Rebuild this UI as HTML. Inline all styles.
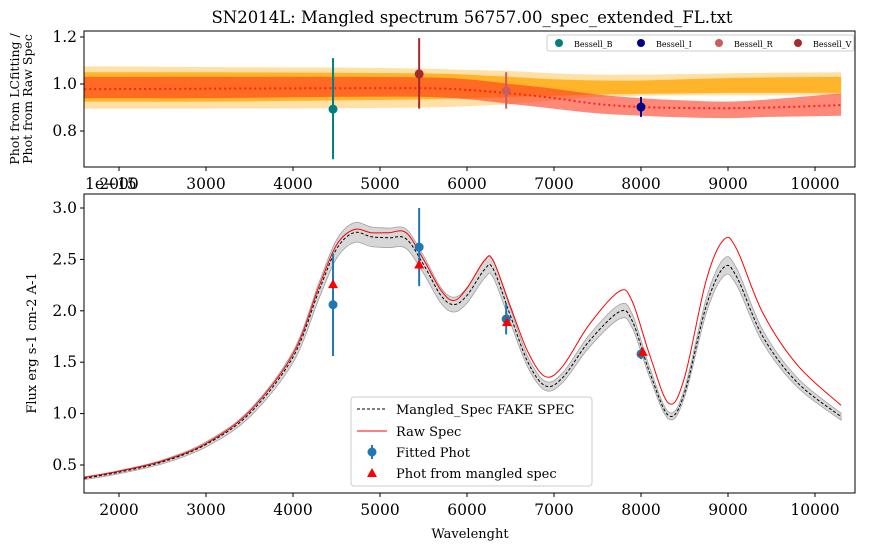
<!DOCTYPE html>
<html><head><meta charset="utf-8"><style>
body{margin:0;background:#fff}
svg{font-family:"DejaVu Serif","Liberation Serif",serif}
</style></head><body>
<svg id="c" width="869" height="550" viewBox="0 0 869 550" xmlns="http://www.w3.org/2000/svg"></svg>
<script>
const xTicks=[2000,3000,4000,5000,6000,7000,8000,9000,10000];
const topYTicks=[0.8,1.0,1.2];
const botYTicks=[0.5,1.0,1.5,2.0,2.5,3.0];
const specWl=[1600,2000,2500,3000,3500,4000,4300,4500,4700,4900,5100,5300,5500,5700,5850,6000,6200,6300,6500,6700,6900,7100,7400,7750,7900,8100,8320,8500,8750,8950,9100,9400,9800,10300];
const mangled=[0.37,0.43,0.53,0.70,1.0,1.55,2.2,2.6,2.76,2.72,2.71,2.70,2.45,2.15,2.06,2.15,2.40,2.41,1.95,1.5,1.27,1.35,1.7,1.99,1.9,1.4,0.98,1.2,2.05,2.42,2.33,1.75,1.3,0.97];
const raw=[0.38,0.44,0.54,0.71,1.02,1.58,2.24,2.64,2.79,2.76,2.76,2.76,2.50,2.20,2.10,2.22,2.49,2.49,2.04,1.6,1.36,1.46,1.86,2.19,2.09,1.57,1.10,1.35,2.3,2.69,2.6,1.98,1.47,1.08];
const bandFrac=0.035;
const photWl=[4460,5450,6450,8000];
const photVal=[2.06,2.62,1.92,1.58];
const photErr=[0.5,0.38,0.15,0.05];
const mangWl=[4460,5450,6460,8020];
const mangVal=[2.26,2.45,1.89,1.60];
const ratioWl=[1600,3000,4500,5500,6000,6500,7000,7500,8000,8500,9000,9500,10300];
const ratioLine=[0.978,0.98,0.982,0.982,0.975,0.96,0.94,0.915,0.902,0.898,0.897,0.9,0.91];
const b1Lo=[0.895,0.895,0.897,0.9,0.905,0.915,0.93,0.945,0.95,0.952,0.952,0.952,0.953];
const b1Hi=[1.075,1.072,1.07,1.065,1.06,1.055,1.045,1.04,1.04,1.042,1.045,1.048,1.05];
const b2Lo=[0.925,0.925,0.93,0.935,0.94,0.945,0.95,0.955,0.958,0.96,0.962,0.962,0.962];
const b2Hi=[1.05,1.05,1.048,1.045,1.04,1.03,1.02,1.015,1.015,1.02,1.025,1.028,1.03];
const b3Lo=[0.94,0.94,0.945,0.945,0.935,0.915,0.895,0.875,0.865,0.858,0.855,0.86,0.865];
const b3Hi=[1.03,1.03,1.03,1.028,1.02,1.0,0.98,0.955,0.94,0.93,0.925,0.935,0.96];
const bandNames=["Bessell_B","Bessell_I","Bessell_R","Bessell_V"];
const bandWl=[4460,8000,6450,5450];
const bandVal=[0.893,0.902,0.97,1.043];
const bandLo=[0.68,0.86,0.895,0.895];
const bandHi=[1.11,0.945,1.05,1.195];
const bandCol=["#008080","#00008b","#cd5c5c","#a52a2a"];

const NS="http://www.w3.org/2000/svg";
const svg=document.getElementById('c');
function el(t,a,p){const e=document.createElementNS(NS,t);for(const k in a)e.setAttribute(k,a[k]);(p||svg).appendChild(e);return e;}
const L=84,R=855;
const X=w=>119+(w-2000)*0.087;
const YT=v=>84-(v-1.0)*235;
const YB=v=>208-(v-3.0)*102.8;
function smooth(pts){let d="M"+pts[0][0].toFixed(1)+","+pts[0][1].toFixed(1);for(let i=0;i<pts.length-1;i++){const p0=pts[Math.max(0,i-1)],p1=pts[i],p2=pts[i+1],p3=pts[Math.min(pts.length-1,i+2)];const c1=[p1[0]+(p2[0]-p0[0])/6,p1[1]+(p2[1]-p0[1])/6],c2=[p2[0]-(p3[0]-p1[0])/6,p2[1]-(p3[1]-p1[1])/6];d+=`C${c1[0].toFixed(1)},${c1[1].toFixed(1)} ${c2[0].toFixed(1)},${c2[1].toFixed(1)} ${p2[0].toFixed(1)},${p2[1].toFixed(1)}`;}return d;}
function bandPath(wl,lo,hi,Y){const up=wl.map((w,i)=>[X(w),Y(hi[i])]);const dn=wl.map((w,i)=>[X(w),Y(lo[i])]).reverse();return smooth(up)+smooth(dn).replace("M","L")+"Z";}

const defs=el('defs',{});
const cp1=el('clipPath',{id:'ct'},defs);el('rect',{x:L,y:31,width:R-L,height:136},cp1);
const cp2=el('clipPath',{id:'cb'},defs);el('rect',{x:L,y:194,width:R-L,height:299},cp2);

let t=el('text',{x:472,y:23,'text-anchor':'middle','font-size':16.5});t.textContent="SN2014L: Mangled spectrum 56757.00_spec_extended_FL.txt";


const gt=el('g',{'clip-path':'url(#ct)'});

let p=el('path',{d:bandPath(ratioWl,b1Lo,b1Hi,YT),fill:'#ffa500','fill-opacity':0.35},gt);
p=el('path',{d:bandPath(ratioWl,b2Lo,b2Hi,YT),fill:'#ffa500','fill-opacity':0.75},gt);
p=el('path',{d:bandPath(ratioWl,b3Lo,b3Hi,YT),fill:'#ff3a20','fill-opacity':0.6},gt);
p=el('path',{d:smooth(ratioWl.map((w,i)=>[X(w),YT(ratioLine[i])])),fill:'none',stroke:'#ff2020','stroke-width':2,'stroke-dasharray':'2,3'},gt);
for(let i=0;i<bandWl.length;i++){
  let g=el('g',{},gt);
  el('line',{x1:X(bandWl[i]),x2:X(bandWl[i]),y1:YT(bandLo[i]),y2:YT(bandHi[i]),stroke:bandCol[i],'stroke-width':2},g);
  el('circle',{cx:X(bandWl[i]),cy:YT(bandVal[i]),r:4.5,fill:bandCol[i]},g);
}
el('rect',{x:L,y:31,width:R-L,height:136,fill:'none',stroke:'#000','stroke-width':1});
for(const v of topYTicks){el('line',{x1:L-4,x2:L,y1:YT(v),y2:YT(v),stroke:'#000'});let tt=el('text',{x:L-7,y:YT(v)+5,'text-anchor':'end','font-size':15.5});tt.textContent=v.toFixed(1);}
for(const v of xTicks){el('line',{x1:X(v),x2:X(v),y1:167,y2:171,stroke:'#000'});let tt=el('text',{x:X(v),y:189,'text-anchor':'middle','font-size':15.5});tt.textContent=v;}
t=el('text',{x:85,y:189,'font-size':15.5});t.textContent="1e−15";
t=el('text',{transform:'translate(19,99) rotate(-90)','text-anchor':'middle','font-size':12.5});

let ts=el('tspan',{x:0,dy:0},t);ts.textContent="Phot from LCfitting /";ts=el('tspan',{x:0,dy:13},t);ts.textContent="Phot from Raw Spec";
const lg=el('g',{});
el('rect',{x:547,y:35,width:307,height:16,fill:'#fff',stroke:'#ccc',rx:2},lg);
const lx=[559,641,719,798];
for(let i=0;i<4;i++){let g=el('g',{},lg);
el('circle',{cx:lx[i],cy:43,r:4,fill:bandCol[i]},g);let tx=el('text',{x:lx[i]+15,y:47,'font-size':8},g);tx.textContent=bandNames[i];}

const gb=el('g',{'clip-path':'url(#cb)'});
p=el('path',{d:bandPath(specWl,mangled.map(v=>v*(1-bandFrac)),mangled.map(v=>v*(1+bandFrac)),YB),fill:'#b0b0b0','fill-opacity':0.5,stroke:'#a0a0a0','stroke-width':0.8},gb);
p=el('path',{d:smooth(specWl.map((w,i)=>[X(w),YB(raw[i])])),fill:'none',stroke:'#ff0000','stroke-width':1},gb);
p=el('path',{d:smooth(specWl.map((w,i)=>[X(w),YB(mangled[i])])),fill:'none',stroke:'#000','stroke-width':1,'stroke-dasharray':'3,2'},gb);
for(let i=0;i<photWl.length;i++){let g=el('g',{},gb);
el('line',{x1:X(photWl[i]),x2:X(photWl[i]),y1:YB(photVal[i]-photErr[i]),y2:YB(photVal[i]+photErr[i]),stroke:'#1f77b4','stroke-width':2},g);
el('circle',{cx:X(photWl[i]),cy:YB(photVal[i]),r:4.5,fill:'#1f77b4'},g);}
for(let i=0;i<mangWl.length;i++){const x=X(mangWl[i]),y=YB(mangVal[i]);let tr=el('path',{d:`M${x},${y-5}L${x+5},${y+4}L${x-5},${y+4}Z`,fill:'#ff0000'},gb);}
el('rect',{x:L,y:194,width:R-L,height:299,fill:'none',stroke:'#000','stroke-width':1});
for(const v of botYTicks){el('line',{x1:L-4,x2:L,y1:YB(v),y2:YB(v),stroke:'#000'});let tt=el('text',{x:L-7,y:YB(v)+5,'text-anchor':'end','font-size':15.5});tt.textContent=v.toFixed(1);}
for(const v of xTicks){el('line',{x1:X(v),x2:X(v),y1:493,y2:497,stroke:'#000'});let tt=el('text',{x:X(v),y:515,'text-anchor':'middle','font-size':15.5});tt.textContent=v;}
t=el('text',{x:470,y:538,'text-anchor':'middle','font-size':13});t.textContent="Wavelenght";
t=el('text',{transform:'translate(36,343) rotate(-90)','text-anchor':'middle','font-size':13});t.textContent="Flux erg s-1 cm-2 A-1";
const bl=el('g',{});
el('rect',{x:351,y:397,width:241,height:89,fill:'#fff','fill-opacity':0.85,stroke:'#ccc',rx:3},bl);
const ly=[409,431,452,473];const labs=["Mangled_Spec FAKE SPEC","Raw Spec","Fitted Phot","Phot from mangled spec"];
for(let i=0;i<4;i++){let g=el('g',{},bl);
let tx=el('text',{x:396,y:ly[i]+5,'font-size':13},g);tx.textContent=labs[i];}
el('line',{x1:357,x2:387,y1:ly[0],y2:ly[0],stroke:'#000','stroke-dasharray':'3,2'},bl);
el('line',{x1:357,x2:387,y1:ly[1],y2:ly[1],stroke:'#f00'},bl);
el('line',{x1:372,x2:372,y1:ly[2]-7,y2:ly[2]+7,stroke:'#1f77b4','stroke-width':2},bl);
el('circle',{cx:372,cy:ly[2],r:4.5,fill:'#1f77b4'},bl);
el('path',{d:`M372,${ly[3]-5}L377,${ly[3]+4}L367,${ly[3]+4}Z`,fill:'#f00'},bl);
</script>
</body></html>
